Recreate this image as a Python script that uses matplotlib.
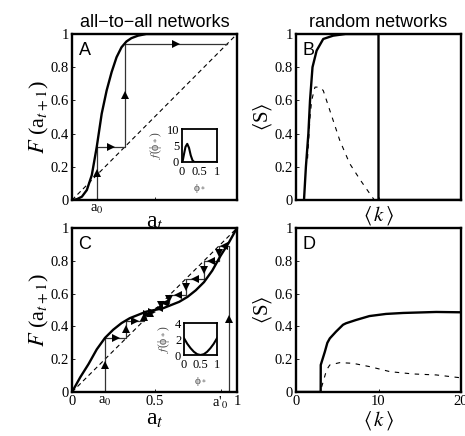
import numpy as np
import matplotlib
matplotlib.use("Agg")
import matplotlib.pyplot as plt

plt.rcParams["font.family"] = ["Liberation Serif", "DejaVu Serif"]
plt.rcParams["mathtext.fontset"] = "stix"

# ---- data ----
# panel A: all-to-all map F(a_t), peaked threshold distribution
a_A = [0, 0.03, 0.06, 0.09, 0.12, 0.15, 0.18, 0.21, 0.24, 0.27, 0.30, 0.33, 0.36, 0.40, 0.45, 0.5, 1.0]
F_A = [0, 0.005, 0.02, 0.06, 0.15, 0.32, 0.52, 0.66, 0.77, 0.86, 0.92, 0.955, 0.975, 0.99, 1.0, 1.0, 1.0]
iter_A = [0.15, 0.32, 0.94]
phi_A = [0, 0.02, 0.05, 0.1, 0.15, 0.2, 0.25, 0.3, 0.35, 1.0]
f_A = [0, 0.3, 2.0, 4.6, 5.5, 4.3, 2.0, 0.5, 0, 0]

# panel C: all-to-all map, U-shaped threshold distribution
a_C = [0, 0.05, 0.1, 0.15, 0.2, 0.25, 0.3, 0.35, 0.4, 0.45, 0.5,
       0.55, 0.6, 0.65, 0.7, 0.75, 0.8, 0.85, 0.9, 0.95, 1.0]
F_C = [0, 0.09, 0.17, 0.26, 0.33, 0.38, 0.42, 0.45, 0.47, 0.49, 0.5,
       0.51, 0.53, 0.55, 0.58, 0.62, 0.67, 0.74, 0.83, 0.91, 1.0]
iter_C_low = [0.2, 0.33, 0.435, 0.475, 0.49]
iter_C_high = [0.95, 0.89, 0.80, 0.69, 0.59, 0.54, 0.515]
phi_C = [0, 0.1, 0.2, 0.3, 0.4, 0.5, 0.6, 0.7, 0.8, 0.9, 1.0]
f_C = [2.1, 1.4, 0.85, 0.4, 0.1, 0, 0.1, 0.4, 0.85, 1.4, 2.1]
xt_C = [0, 0.2, 0.5, 0.9, 1]
xtl_C = ["0", "a$_0$", "0.5", "a'$_0$", "1"]

# panel B: random networks, peaked distribution
k_B = [0.97, 1.2, 1.5, 1.7, 2.0, 2.5, 3.3, 4.5, 6, 8, 10.0, 10.0, 20]
S_B = [0, 0.2, 0.40, 0.6, 0.8, 0.9, 0.97, 0.99, 1.0, 1.0, 1.0, 0, 0]
k_B_d = [1.4, 1.7, 1.9, 2.3, 2.8, 3.3, 4.1, 5.3, 6.5, 7.8, 9.2, 9.5]
S_B_d = [0.25, 0.5, 0.6, 0.68, 0.68, 0.66, 0.54, 0.36, 0.22, 0.12, 0.02, 0]

# panel D: random networks, U-shaped distribution
k_D = [0, 2.99, 3.0, 3.5, 3.8, 4.1, 4.85, 5.7, 6.06, 7.27, 8.9, 10.9, 13, 15, 17, 20]
S_D = [0, 0, 0.165, 0.246, 0.30, 0.327, 0.368, 0.41, 0.419, 0.439, 0.463, 0.476, 0.482, 0.485, 0.488, 0.486]
k_D_d = [3.1, 3.3, 3.7, 4.1, 5.3, 6.9, 9.0, 11.4, 14.2, 17.0, 19.9]
S_D_d = [0.03, 0.063, 0.134, 0.165, 0.179, 0.175, 0.154, 0.124, 0.11, 0.104, 0.087]

yt = [0, 0.2, 0.4, 0.6, 0.8, 1]
ytl = ["0", "0.2", "0.4", "0.6", "0.8", "1"]

W, H = 465, 436
fig = plt.figure(figsize=(W / 100, H / 100), dpi=100)


def box(l, t, r, b):
    return [l / W, (H - b) / H, (r - l) / W, (b - t) / H]


def style(ax, lw=1.7):
    for s in ax.spines.values():
        s.set_linewidth(lw)
    ax.tick_params(direction="in", length=2.5, width=0.6, labelsize=10.5, pad=2)


def cobweb(ax, its):
    xs, ys = [its[0]], [0]
    for i in range(len(its) - 1):
        xs += [its[i], its[i + 1]]
        ys += [its[i + 1], its[i + 1]]
    ax.plot(xs, ys, color="#333333", lw=0.9, zorder=2)
    for i in range(len(xs) - 1):
        mx, my = (xs[i] + xs[i + 1]) / 2, (ys[i] + ys[i + 1]) / 2
        if xs[i] == xs[i + 1]:
            m = "^" if ys[i + 1] > ys[i] else "v"
        else:
            m = ">" if xs[i + 1] > xs[i] else "<"
        ax.plot(mx, my, marker=m, color="k", ms=5.5, mew=0, zorder=3)


def inset(rect, phi, f, ymax, yticks):
    ax = fig.add_axes(rect)
    style(ax, lw=1.3)
    ax.plot(phi, f, "k-", lw=1.5)
    ax.set_xlim(0, 1)
    ax.set_ylim(0, ymax)
    ax.set_xticks([0, 0.5, 1])
    ax.set_xticklabels(["0", "0.5", "1"])
    ax.set_yticks(yticks)
    ax.tick_params(labelsize=9, length=0)
    ax.tick_params(axis="x", pad=3)
    ax.tick_params(axis="y", pad=2)
    ax.set_xlabel("\u03d5$_*$", fontsize=8, color="#444444", labelpad=3)
    ax.set_ylabel("$f$(\u03d5$_*$)", fontsize=8.5, color="#444444", labelpad=2)
    return ax


sans = ["Liberation Sans", "DejaVu Sans"]

# ---- A ----
axA = fig.add_axes(box(72, 34, 237, 200))
style(axA)
axA.plot([0, 1], [0, 1], "k--", lw=0.8, dashes=(4, 3))
axA.plot(a_A, F_A, "k-", lw=1.7, zorder=4)
cobweb(axA, iter_A)
axA.set_xlim(0, 1)
axA.set_ylim(0, 1)
axA.set_xticks([0.15, 0.5, 1])
axA.set_xticklabels(["a$_0$", "", ""])
axA.set_yticks(yt)
axA.set_yticklabels(ytl)
axA.set_xlabel("a$_t$", fontsize=17, labelpad=-3)
axA.set_ylabel("$F$ (a$_{t+1}$)", fontsize=16, labelpad=0)
axA.set_title("all\u2212to\u2212all networks", family=sans, fontsize=13, pad=5)
axA.text(0.04, 0.95, "A", transform=axA.transAxes, family=sans, fontsize=13, va="top")
inset(box(182, 129, 217, 162), phi_A, f_A, 10, [0, 5, 10])

# ---- B ----
axB = fig.add_axes(box(296, 34, 461, 200))
style(axB)
axB.plot(k_B_d, S_B_d, "k--", lw=0.8, dashes=(4, 5))
axB.plot(k_B, S_B, "k-", lw=1.7)
axB.set_xlim(0, 20)
axB.set_ylim(0, 1)
axB.set_xticks([0, 10, 20])
axB.set_xticklabels([])
axB.set_yticks(yt)
axB.set_yticklabels(ytl)
axB.set_xlabel(r"$\langle\, k \,\rangle$", fontsize=15, labelpad=1)
axB.set_ylabel(r"$\langle$S$\rangle$", fontsize=15, labelpad=1)
axB.set_title("random networks", family=sans, fontsize=13, pad=5)
axB.text(0.04, 0.95, "B", transform=axB.transAxes, family=sans, fontsize=13, va="top")

# ---- C ----
axC = fig.add_axes(box(72, 228, 237, 392))
style(axC)
axC.plot([0, 1], [0, 1], "k--", lw=0.8, dashes=(4, 3))
axC.plot(a_C, F_C, "k-", lw=1.7, zorder=4)
cobweb(axC, iter_C_low)
cobweb(axC, iter_C_high)
axC.set_xlim(0, 1)
axC.set_ylim(0, 1)
axC.set_xticks(xt_C)
axC.set_xticklabels(xtl_C)
axC.set_yticks(yt)
axC.set_yticklabels(ytl)
axC.set_xlabel("a$_t$", fontsize=17, labelpad=-1)
axC.set_ylabel("$F$ (a$_{t+1}$)", fontsize=16, labelpad=0)
axC.text(0.04, 0.95, "C", transform=axC.transAxes, family=sans, fontsize=13, va="top")
inset(box(184, 323, 217, 355), phi_C, f_C, 4, [0, 2, 4])

# ---- D ----
axD = fig.add_axes(box(296, 228, 461, 392))
style(axD)
axD.plot(k_D_d, S_D_d, "k--", lw=0.8, dashes=(4, 5))
axD.plot(k_D, S_D, "k-", lw=1.7)
axD.set_xlim(0, 20)
axD.set_ylim(0, 1)
axD.set_xticks([0, 10, 20])
axD.set_xticklabels(["0", "10", "20"])
axD.set_yticks(yt)
axD.set_yticklabels(ytl)
axD.set_xlabel(r"$\langle\, k \,\rangle$", fontsize=15, labelpad=1)
axD.set_ylabel(r"$\langle$S$\rangle$", fontsize=15, labelpad=1)
axD.text(0.04, 0.95, "D", transform=axD.transAxes, family=sans, fontsize=13, va="top")

fig.savefig("out.png", dpi=100)
